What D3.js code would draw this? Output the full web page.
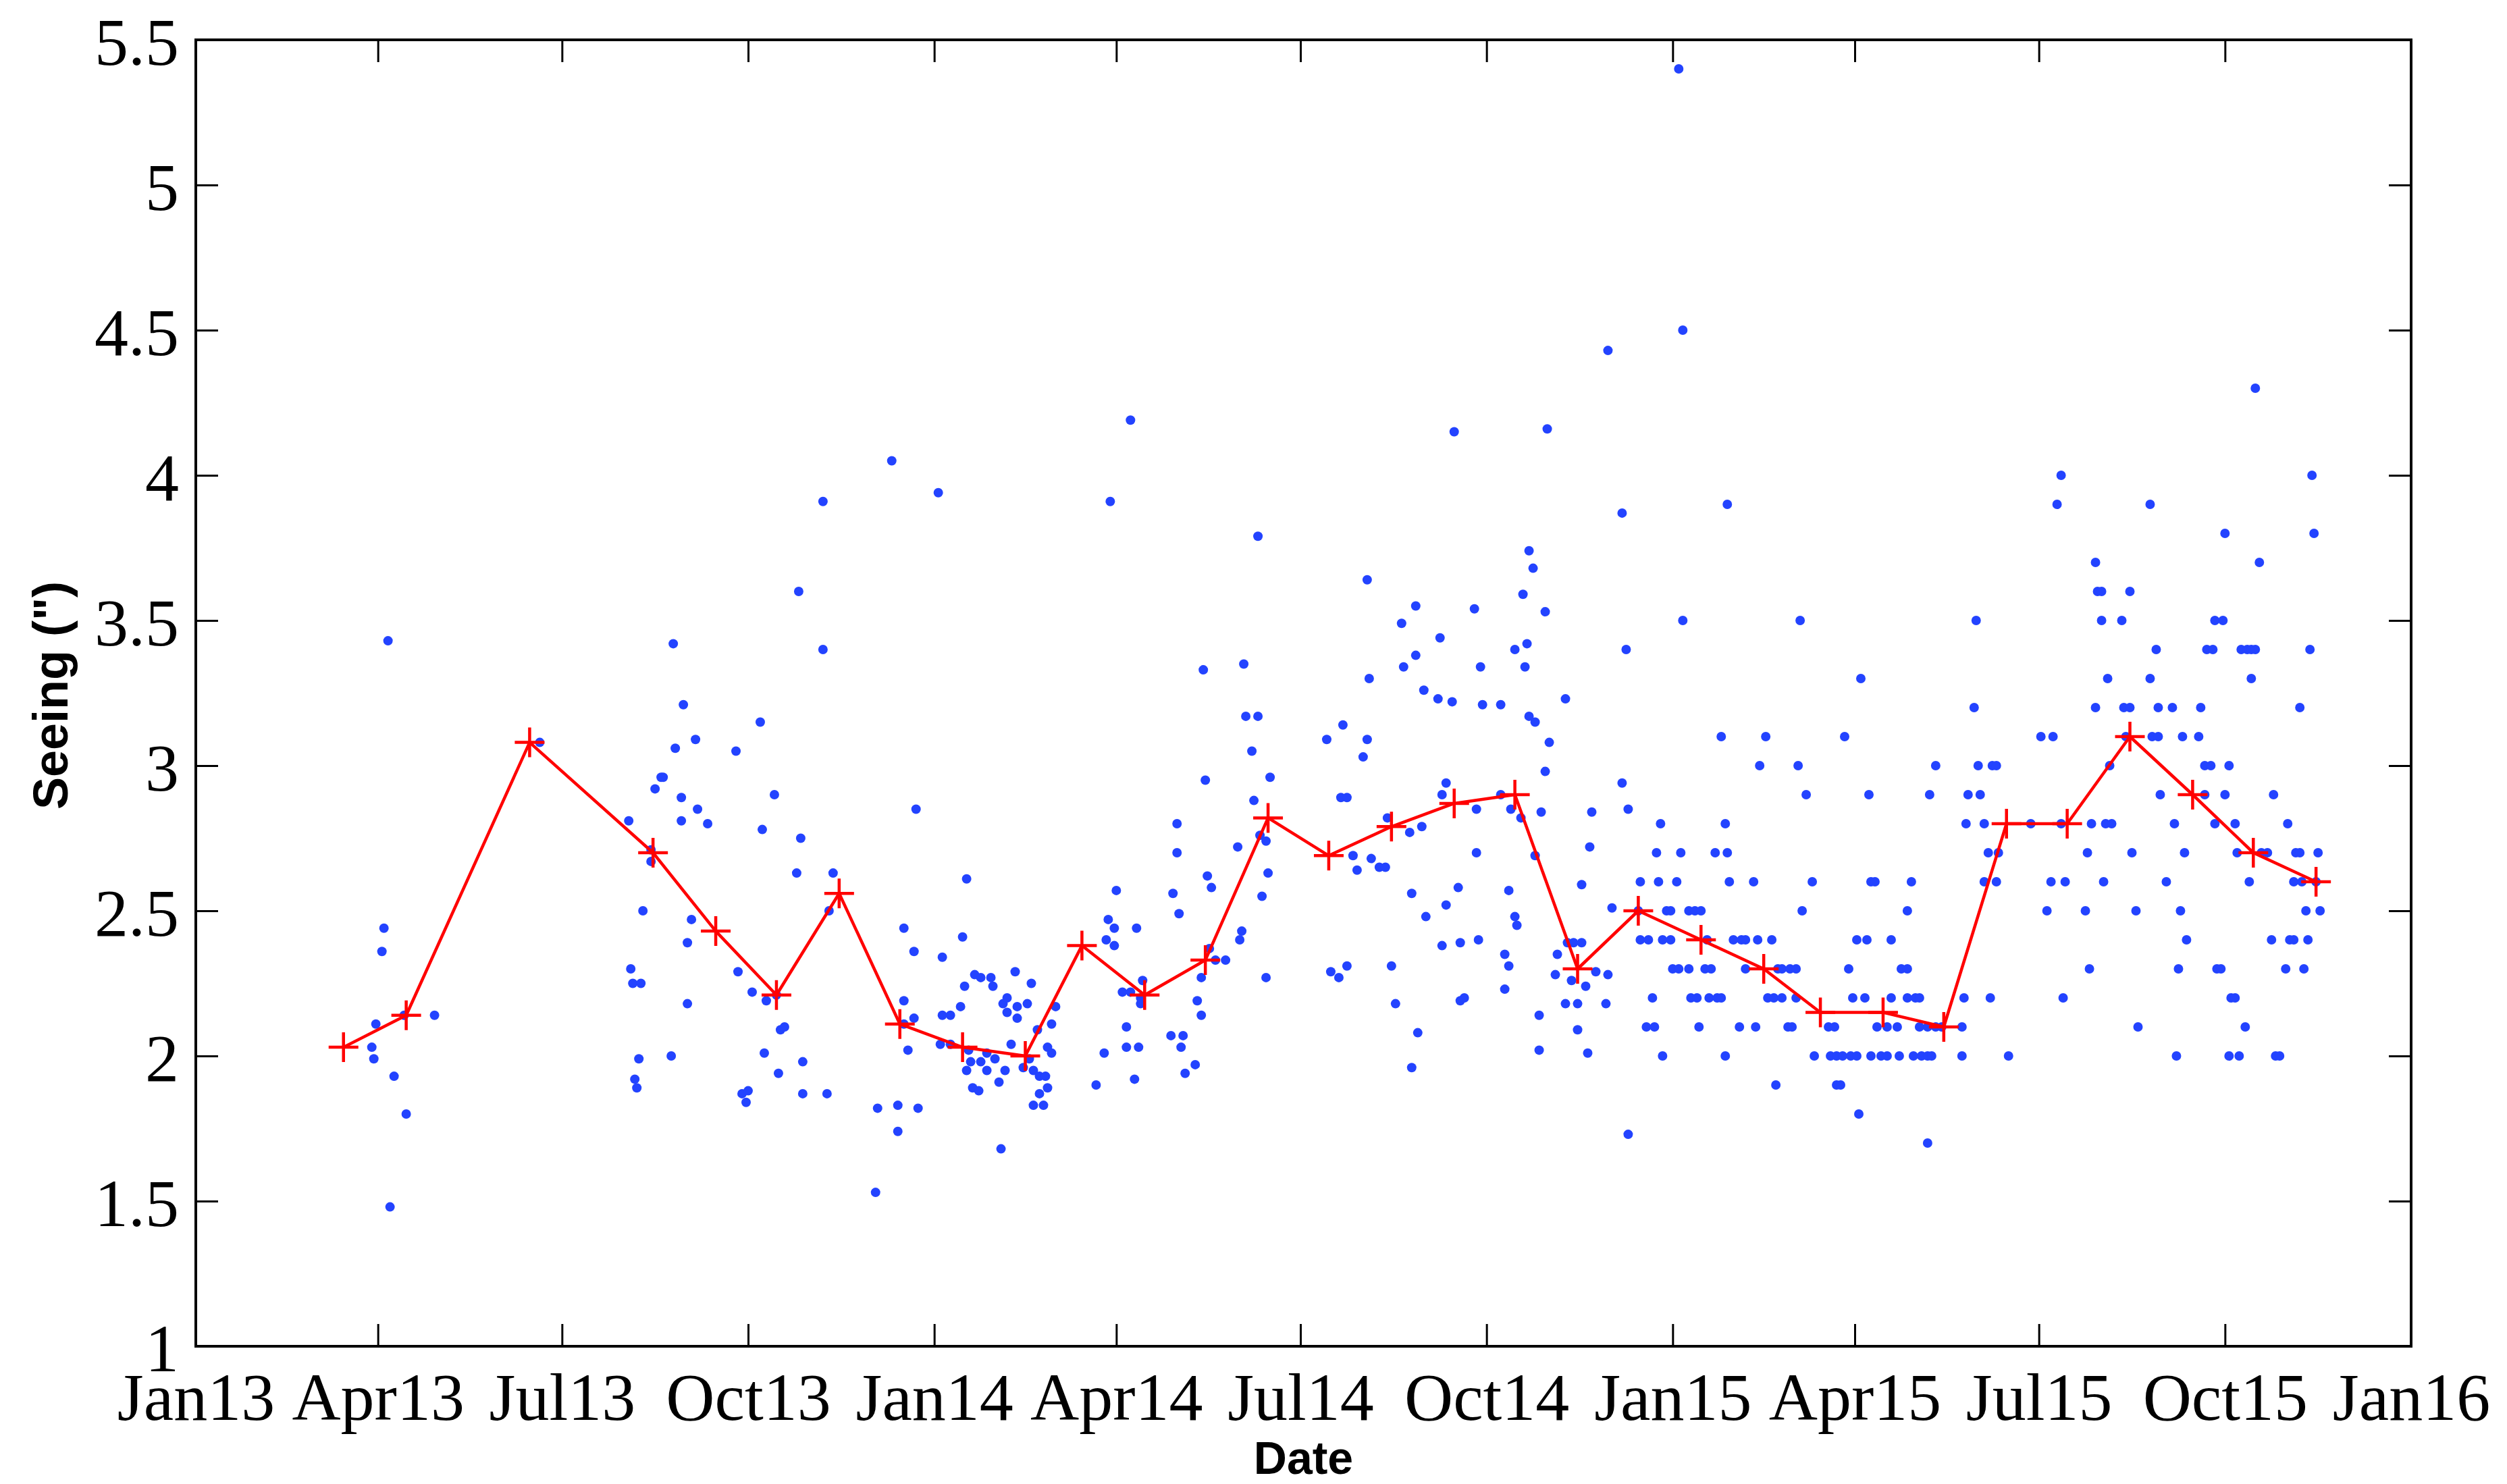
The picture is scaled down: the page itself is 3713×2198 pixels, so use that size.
<!DOCTYPE html>
<html>
<head>
<meta charset="utf-8">
<script src="https://cdn.jsdelivr.net/npm/d3@7"></script>
<style>
  html, body { margin: 0; padding: 0; background: #fff; }
</style>
</head>
<body>
<div id="chart"></div>
<script>
// nightly seeing, as [days since 1 Jan 2013, seeing in arcsec]
const nights2013 = [
  [95,3.43],[93,2.44],[92,2.36],[89,2.11],[87,2.03],[88,1.99],[98,1.93],[104,1.80],[103,2.14],[118,2.14],[96,1.48],
  [170,3.08],[236,3.42],[241,3.21],[237,3.06],[247,3.09],[267,3.05],[230,2.96],[231,2.96],[227,2.92],[240,2.89],
  [248,2.85],[240,2.81],[253,2.80],[214,2.81],[225,2.71],[225,2.67],[221,2.50],[245,2.47],[243,2.39],[215,2.30],
  [216,2.25],[220,2.25],[243,2.18],[268,2.29],[275,2.22],[219,1.99],[217,1.92],[218,1.89],[235,2.00],[270,1.87],
  [273,1.88],[272,1.84],
  [310,3.91],[298,3.60],[310,3.40],[279,3.15],[286,2.90],[280,2.78],[299,2.75],[297,2.63],[315,2.63],[313,2.50],
  [356,2.85],[282,2.19],[287,2.21],[289,2.09],[291,2.10],[281,2.01],[288,1.94],[300,1.98],[300,1.87],[312,1.87],
  [337,1.82],[336,1.53],[350,2.44],[355,2.36],[350,2.19],[355,2.13],[350,2.11],[352,2.02],[347,1.83],[347,1.74],
  [357,1.82],[344,4.05]
];
const nights2014 = [
  [367,3.94],[381,2.61],[379,2.41],[369,2.34],[380,2.24],[378,2.17],[369,2.14],[373,2.14],[368,2.04],[373,2.04],
  [382,2.02],[383,1.98],[381,1.95],[385,2.28],[388,2.27],[393,2.27],[394,2.24],[388,1.98],[391,2.01],[391,1.95],
  [395,1.99],[397,1.91],[400,1.95],[384,1.89],[387,1.88],[398,1.68],[399,2.18],[401,2.20],[401,2.15],[405,2.29],
  [406,2.17],[406,2.13],[403,2.04],[411,2.18],[413,2.25],[409,1.96],[412,1.99],[416,2.09],[414,1.95],[417,1.93],
  [420,1.93],[421,1.89],[417,1.87],[414,1.83],[419,1.83],[423,2.11],[421,2.03],[423,2.01],[425,2.17],
  [452,3.91],[462,4.19],[525,3.79],[579,3.64],[596,3.49],[597,3.34],[498,3.33],[518,3.35],[519,3.17],[525,3.17],
  [522,3.05],[499,2.95],[523,2.88],[531,2.96],[580,3.30],[567,3.14],[559,3.09],[579,3.09],[577,3.03],[566,2.89],
  [569,2.89],[589,2.82],[526,2.76],[529,2.74],[515,2.72],[530,2.63],[527,2.55],[517,2.43],[516,2.40],[529,2.27],
  [572,2.69],[574,2.64],[581,2.68],[585,2.65],[588,2.65],[561,2.29],[565,2.27],[569,2.31],[591,2.31],[593,2.18],
  [485,2.80],[485,2.70],[483,2.56],[486,2.49],[500,2.62],[502,2.58],[501,2.37],[504,2.33],[509,2.33],[497,2.27],
  [495,2.19],[497,2.14],[482,2.07],[488,2.07],[487,2.03],[494,1.97],[489,1.94],[455,2.57],[451,2.47],[454,2.44],
  [450,2.40],[454,2.38],[465,2.44],[458,2.22],[462,2.22],[468,2.26],[467,2.18],[467,2.20],[460,2.10],[460,2.03],
  [466,2.03],[449,2.01],[445,1.90],[464,1.92],
  [705,3.87],[659,3.74],[661,3.68],[656,3.59],[667,3.53],[603,3.55],[632,3.54],[615,3.44],[603,3.38],[635,3.34],
  [652,3.40],[658,3.42],[657,3.34],[607,3.26],[614,3.23],[621,3.22],[636,3.21],[645,3.21],[677,3.23],[707,3.40],
  [659,3.17],[662,3.15],[669,3.08],[667,2.98],[705,2.94],[708,2.85],[690,2.84],[618,2.94],[616,2.90],[633,2.85],
  [645,2.90],[650,2.85],[655,2.82],[665,2.84],[600,2.77],[606,2.79],[633,2.70],[662,2.69],[689,2.72],[685,2.59],
  [601,2.56],[608,2.48],[618,2.52],[624,2.58],[649,2.57],[652,2.48],[653,2.45],[616,2.38],[625,2.39],[634,2.40],
  [647,2.35],[649,2.31],[647,2.23],[625,2.19],[627,2.20],[604,2.08],[601,1.96],[673,2.35],[672,2.28],[664,2.14],
  [664,2.02],[678,2.39],[681,2.39],[685,2.39],[680,2.26],[687,2.24],[692,2.29],[677,2.18],[683,2.18],[683,2.09],
  [688,2.01],[698,2.28],[697,2.18],[700,2.51],[708,1.73],[698,4.43],[622,4.15],[668,4.16],
  [714,2.6],[723,2.6],[713,2.5],[727,2.5],[729,2.5],[714,2.4],[718,2.4],[725,2.4],[729,2.4],[724,2.8],[722,2.7],
  [720,2.2],[717,2.1],[721,2.1],[725,2.0]
];
const nights2015 = [
  [757,3.9],[735,3.5],[754,3.1],[734,2.7],[751,2.7],[757,2.7],[756,2.8],[732,2.6],[758,2.6],[738,2.5],[741,2.5],
  [744,2.5],[747,2.4],[730,2.3],[733,2.3],[738,2.3],[746,2.3],[749,2.3],[739,2.2],[742,2.2],[748,2.2],[752,2.2],
  [754,2.2],[743,2.1],[756,2.0],[733,5.4],[735,4.5],
  [793,3.5],[823,3.3],[880,3.5],[879,3.2],[776,3.1],[815,3.1],[773,3.0],[792,3.0],[860,3.0],[881,3.0],[888,3.0],
  [890,3.0],[796,2.9],[827,2.9],[857,2.9],[876,2.9],[882,2.9],[875,2.8],[884,2.8],[907,2.8],[912,3.1],[918,3.1],
  [770,2.6],[799,2.6],[828,2.6],[830,2.6],[848,2.6],[884,2.6],[890,2.6],[886,2.7],[891,2.7],[917,2.6],[915,2.5],
  [794,2.5],[846,2.5],[760,2.4],[764,2.4],[766,2.4],[772,2.4],[779,2.4],[821,2.4],[826,2.4],[838,2.4],[766,2.3],
  [782,2.3],[784,2.3],[788,2.3],[791,2.3],[817,2.3],[843,2.3],[846,2.3],[777,2.2],[780,2.2],[784,2.2],[791,2.2],
  [819,2.2],[825,2.2],[838,2.2],[846,2.2],[850,2.2],[852,2.2],[874,2.2],[887,2.2],[763,2.1],[771,2.1],[787,2.1],
  [789,2.1],[807,2.1],[810,2.1],[831,2.1],[836,2.1],[841,2.1],[852,2.1],[856,2.1],[860,2.1],[863,2.1],[873,2.1],
  [800,2.0],[808,2.0],[811,2.0],[814,2.0],[818,2.0],[821,2.0],[828,2.0],[833,2.0],[836,2.0],[842,2.0],[849,2.0],
  [853,2.0],[856,2.0],[858,2.0],[873,2.0],[896,2.0],[781,1.9],[811,1.9],[813,1.9],[822,1.8],[856,1.7],
  [922,4.0],[1046,4.0],[920,3.9],[966,3.9],[1003,3.8],[1047,3.8],[939,3.7],[1020,3.7],[940,3.6],[942,3.6],
  [956,3.6],[942,3.5],[952,3.5],[998,3.5],[1002,3.5],[969,3.4],[994,3.4],[997,3.4],[1011,3.4],[1014,3.4],
  [1016,3.4],[1018,3.4],[1045,3.4],[945,3.3],[966,3.3],[1016,3.3],[939,3.2],[953,3.2],[956,3.2],[970,3.2],
  [977,3.2],[991,3.2],[1040,3.2],[954,3.1],[967,3.1],[970,3.1],[982,3.1],[990,3.1],[946,3.0],[993,3.0],
  [996,3.0],[1005,3.0],[971,2.9],[993,2.9],[1003,2.9],[1027,2.9],[922,2.8],[937,2.8],[944,2.8],[947,2.8],
  [978,2.8],[998,2.8],[1008,2.8],[1034,2.8],[935,2.7],[957,2.7],[983,2.7],[1009,2.7],[1021,2.7],[1024,2.7],
  [1038,2.7],[1040,2.7],[1049,2.7],[924,2.6],[943,2.6],[974,2.6],[1015,2.6],[1037,2.6],[1041,2.6],[1048,2.6],
  [934,2.5],[959,2.5],[981,2.5],[1043,2.5],[1050,2.5],[984,2.4],[1026,2.4],[1035,2.4],[1037,2.4],[1044,2.4],
  [936,2.3],[980,2.3],[999,2.3],[1001,2.3],[1033,2.3],[1042,2.3],[923,2.2],[1006,2.2],[1008,2.2],[960,2.1],
  [1013,2.1],[979,2.0],[1005,2.0],[1010,2.0],[1028,2.0],[1030,2.0],[1018,4.3]
];

// monthly means
const monthDates = [
  "2013-03-15","2013-04-15","2013-06-15","2013-08-15","2013-09-15","2013-10-15","2013-11-15","2013-12-15",
  "2014-01-15","2014-02-15","2014-03-15","2014-04-15","2014-05-15","2014-06-15","2014-07-15","2014-08-15",
  "2014-09-15","2014-10-15","2014-11-15","2014-12-15","2015-01-15","2015-02-15","2015-03-15","2015-04-15",
  "2015-05-15","2015-06-15","2015-07-15","2015-08-15","2015-09-15","2015-10-15","2015-11-15"
];
const monthMeans = [
  2.03, 2.14, 3.08, 2.70, 2.43, 2.21, 2.56, 2.11,
  2.03, 2.00, 2.38, 2.21, 2.33, 2.82, 2.69, 2.79,
  2.87, 2.90, 2.30, 2.50, 2.40, 2.30, 2.15, 2.15,
  2.10, 2.80, 2.80, 3.10, 2.90, 2.70, 2.60
];

const yTicks = [1, 1.5, 2, 2.5, 3, 3.5, 4, 4.5, 5, 5.5];
const xTickLabels = ["Jan13","Apr13","Jul13","Oct13","Jan14","Apr14","Jul14","Oct14","Jan15","Apr15","Jul15","Oct15","Jan16"];

const W = 3713, H = 2198;
const margin = { top: 59, right: 142, bottom: 204, left: 290 };
const width = W - margin.left - margin.right,
  height = H - margin.top - margin.bottom;

const start = new Date(2013, 0, 1);
const parseTick = d3.timeParse("%b%y");
const parseDay = d3.timeParse("%Y-%m-%d");

const svg = d3.select("#chart").append("svg")
  .attr("width", W)
  .attr("height", H)
  .style("display", "block");

const g = svg.append("g")
  .attr("transform", "translate(" + margin.left + "," + margin.top + ")");

const x = d3.scaleTime()
  .domain([start, new Date(2016, 0, 1)])
  .range([0, width]);
const y = d3.scaleLinear()
  .domain([1, 5.5])
  .range([height, 0]);

const tickDates = xTickLabels.map(parseTick);
const tickLen = 33;
const serif = "'Liberation Serif', 'Times New Roman', Times, serif";

// axes, ticks pointing inward on all four sides
const xAxis = g.append("g")
  .attr("transform", "translate(0," + height + ")")
  .call(d3.axisBottom(x).tickValues(tickDates)
    .tickFormat((d, i) => xTickLabels[i])
    .tickSizeInner(-tickLen).tickSizeOuter(0).tickPadding(38));

const xTop = g.append("g")
  .call(d3.axisTop(x).tickValues(tickDates.slice(1, -1))
    .tickFormat("").tickSizeInner(-tickLen).tickSizeOuter(0));

const yAxis = g.append("g")
  .call(d3.axisLeft(y).tickValues(yTicks)
    .tickFormat(d => String(d))
    .tickSizeInner(-tickLen).tickSizeOuter(0).tickPadding(25));

const yRight = g.append("g")
  .attr("transform", "translate(" + width + ",0)")
  .call(d3.axisRight(y).tickValues(yTicks.slice(1, -1))
    .tickFormat("").tickSizeInner(-tickLen).tickSizeOuter(0));

[xAxis, xTop, yAxis, yRight].forEach(a => {
  a.select(".domain").remove();
  a.selectAll(".tick line").attr("stroke", "#000").attr("stroke-width", 3);
  a.selectAll("text")
    .attr("fill", "#000")
    .style("font-family", serif)
    .style("font-size", "100px");
});
xAxis.selectAll(".tick line").filter((d, i) => i === 0 || i === xTickLabels.length - 1).remove();
yAxis.selectAll(".tick line").filter((d, i) => i === 0 || i === yTicks.length - 1).remove();
yAxis.selectAll("text").attr("dy", "0.36em");

// frame
g.append("rect")
  .attr("x", 0).attr("y", 0)
  .attr("width", width).attr("height", height)
  .attr("fill", "none")
  .attr("stroke", "#000")
  .attr("stroke-width", 4);

// nightly points
const nights = nights2013.concat(nights2014, nights2015);
g.append("g").selectAll("circle")
  .data(nights)
  .enter()
  .append("circle")
  .attr("cx", d => x(d3.timeDay.offset(start, d[0])))
  .attr("cy", d => y(d[1]))
  .attr("r", 7)
  .attr("fill", "#2343ff");

// monthly mean line with + markers
const monthly = monthDates.map((d, i) => ({ date: parseDay(d), value: monthMeans[i] }));
g.append("path")
  .datum(monthly)
  .attr("fill", "none")
  .attr("stroke", "#ff0000")
  .attr("stroke-width", 4.5)
  .attr("stroke-linejoin", "round")
  .attr("d", d3.line().x(d => x(d.date)).y(d => y(d.value)));

g.append("g").selectAll("path")
  .data(monthly)
  .enter()
  .append("path")
  .attr("transform", d => "translate(" + x(d.date) + "," + y(d.value) + ")")
  .attr("d", "M-22,0H22M0,-22V22")
  .attr("stroke", "#ff0000")
  .attr("stroke-width", 4.5)
  .attr("fill", "none");

// axis titles
svg.append("text")
  .attr("x", margin.left + width / 2)
  .attr("y", 2183)
  .attr("text-anchor", "middle")
  .style("font-family", "'Liberation Sans', Arial, Helvetica, sans-serif")
  .style("font-weight", "bold")
  .style("font-size", "68px")
  .text("Date");

svg.append("text")
  .attr("transform", "translate(100,1030) rotate(-90)")
  .attr("text-anchor", "middle")
  .style("font-family", "'Liberation Sans', Arial, Helvetica, sans-serif")
  .style("font-weight", "bold")
  .style("font-size", "72px")
  .text("Seeing (\")");
</script>
</body>
</html>
